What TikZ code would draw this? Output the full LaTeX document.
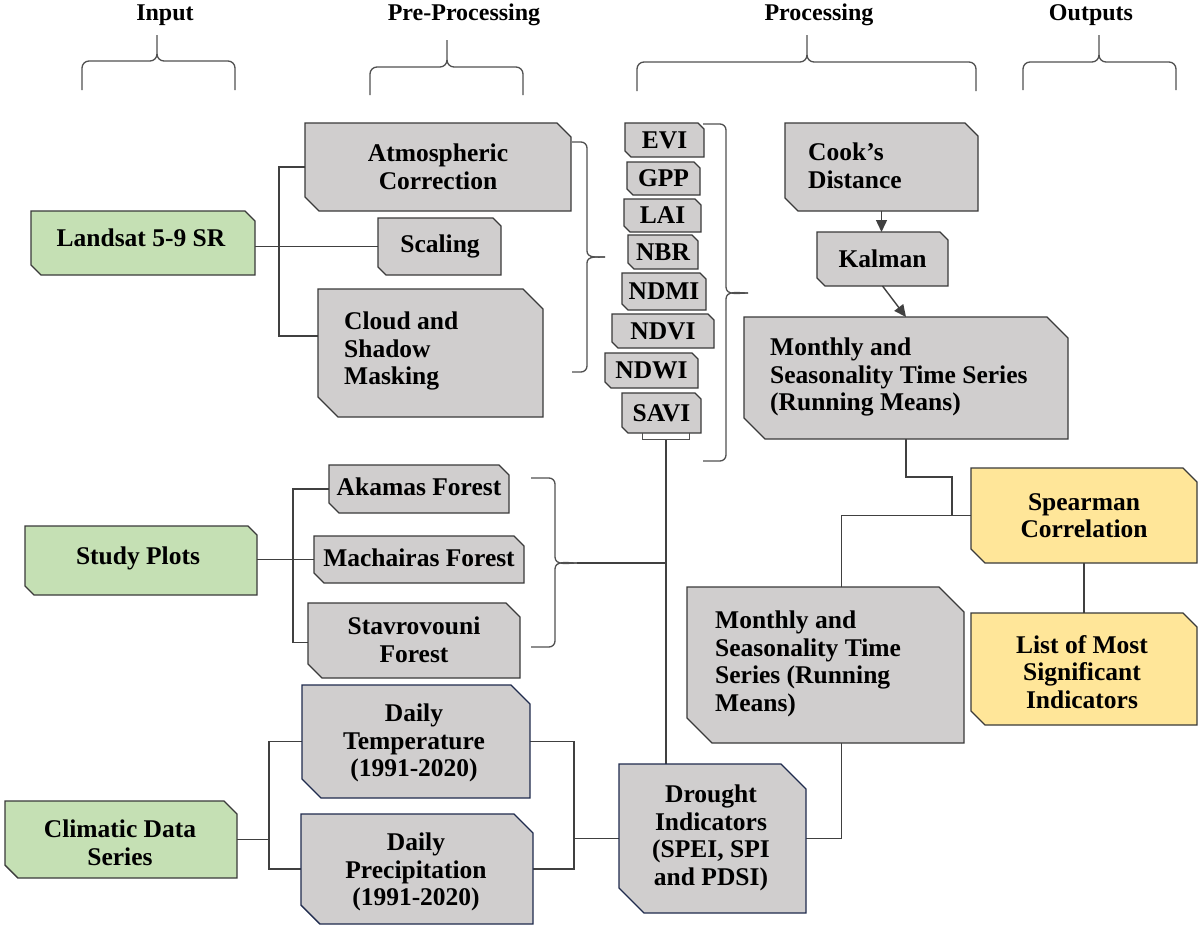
\documentclass[tikz,border=0pt]{standalone}
\usepackage{fontspec}
\setmainfont{Liberation Serif}
\usetikzlibrary{arrows.meta,fit,calc,backgrounds}
\definecolor{boxgray}{HTML}{D0CECE}
\definecolor{boxgreen}{HTML}{C5E0B4}
\definecolor{boxyellow}{HTML}{FFE699}
\definecolor{edgegray}{HTML}{3A3A3A}
\definecolor{edgenavy}{HTML}{1F2B4D}
\definecolor{linegray}{HTML}{404040}
\definecolor{bracegray}{HTML}{505050}
\newcommand\snipbox[7]{%
  \filldraw[#2] (#3,#4) -- ({#5-#7},#4) -- (#5,{#4+#7}) -- (#5,#6) -- ({#3+#7},#6) -- (#3,{#6-#7}) -- cycle;
  \node[inner sep=0pt, outer sep=0pt, fit={(#3,#4)(#5,#6)}] (#1) {};
}
\newcommand\hdrbrace[6]{%
  \draw[bracepath] (#1,#6) -- (#1,{#4+7}) to[out=90,in=180] ({#1+7},#4) -- ({#3-7},#4) to[out=0,in=270] (#3,{#4-7}) -- (#3,#5);
  \draw[bracepath] (#2,#6) -- (#2,{#4+7}) to[out=90,in=0] ({#2-7},#4) -- ({#3+7},#4) to[out=180,in=270] (#3,{#4-7});
}
\newcommand\sidebrace[6]{%
  \draw[bracepath] (#1,#3) -- ({#2-6},#3) to[out=0,in=90] (#2,{#3+6}) -- (#2,{#6-6}) to[out=270,in=180] (#5,#6);
  \draw[bracepath] (#1,#4) -- ({#2-6},#4) to[out=0,in=270] (#2,{#4-6}) -- (#2,{#6+6}) to[out=90,in=180] (#5,#6);
}
\tikzset{
  gbox/.style={fill=boxgray, draw=edgegray, line width=1.4pt},
  grbox/.style={fill=boxgreen, draw=edgegray, line width=1.4pt},
  ybox/.style={fill=boxyellow, draw=edgegray, line width=1.4pt},
  nbox/.style={fill=boxgray, draw=edgenavy, line width=1.4pt},
  conn/.style={draw=linegray, line width=1.4pt},
  arr/.style={conn, -{Triangle[length=12pt,width=11pt]}},
  bracepath/.style={draw=bracegray, line width=1.3pt},
  txt/.style={font=\fontsize{25.5}{27.5}\selectfont\bfseries, align=center, inner sep=0pt, text=black},
  hdr/.style={font=\fontsize{24}{28}\selectfont\bfseries, inner sep=0pt, anchor=base},
}
\begin{document}
\begin{tikzpicture}[x=1pt, y=-1pt]
\useasboundingbox (0,0) rectangle (1200,930);
\begin{scope}[on background layer]
\fill[white] (0,0) rectangle (1200,930);
\end{scope}
% headers
\node[hdr] (hIn) at (165,20) {Input};
\node[hdr] (hPre) at (464,20) {Pre-Processing};
\node[hdr] (hProc) at (819,20) {Processing};
\node[hdr] (hOut) at (1091,20) {Outputs};
\hdrbrace{82}{235}{157}{61}{35}{90}
\hdrbrace{370}{523}{447}{67}{40}{95}
\hdrbrace{637}{976}{807}{62}{35}{91}
\hdrbrace{1023}{1176}{1099}{62}{35}{90}
% boxes
\snipbox{land}{grbox}{31}{211}{255}{275}{10}
\snipbox{atm}{gbox}{305}{123}{571}{211}{14}
\snipbox{scal}{gbox}{378}{218}{501}{275}{8}
\snipbox{cloud}{gbox}{318}{289}{543}{417}{20}
\snipbox{evi}{gbox}{625}{123}{704}{157}{6}
\snipbox{gpp}{gbox}{627}{162}{700}{195}{6}
\snipbox{lai}{gbox}{624}{199}{701}{232}{6}
\snipbox{nbr}{gbox}{628}{235}{698}{269}{6}
\snipbox{ndmi}{gbox}{622}{273}{706}{310}{6}
\snipbox{ndvi}{gbox}{612}{314}{714}{348}{6}
\snipbox{ndwi}{gbox}{605}{353}{698}{388}{6}
\snipbox{savi}{gbox}{622}{393}{701}{433}{6}
\snipbox{cook}{gbox}{785}{123}{978}{211}{13}
\snipbox{kal}{gbox}{817}{232}{948}{286}{8}
\snipbox{mon1}{gbox}{744}{317}{1068}{439}{21}
\snipbox{spear}{ybox}{971}{468}{1197}{563}{14}
\snipbox{list}{ybox}{971}{613}{1197}{725}{14}
\snipbox{mon2}{gbox}{687}{587}{964}{743}{25}
\snipbox{study}{grbox}{25}{526}{257}{595}{9}
\snipbox{aka}{gbox}{329}{465}{509}{513}{10}
\snipbox{mach}{gbox}{314}{536}{524}{583}{10}
\snipbox{stav}{gbox}{308}{603}{520}{678}{14}
\snipbox{clim}{grbox}{5}{801}{237}{878}{13}
\snipbox{temp}{nbox}{302}{685}{530}{798}{19}
\snipbox{prec}{nbox}{301}{814}{533}{924}{19}
\snipbox{drought}{nbox}{619}{764}{806}{913}{25}
% texts
\node[txt] (tland) at (141,238) {Landsat 5-9 SR};
\node[txt] (tatm) at (atm.center) {Atmospheric\\Correction};
\node[txt] (tscal) at (440,246) {Scaling};
\node[txt, align=left, anchor=west] (tcloud) at (344,351) {Cloud and\\Shadow\\Masking};
\node[txt] (tevi) at (evi.center) {EVI};
\node[txt] (tgpp) at (gpp.center) {GPP};
\node[txt] (tlai) at (lai.center) {LAI};
\node[txt] (tnbr) at (nbr.center) {NBR};
\node[txt] (tndmi) at (ndmi.center) {NDMI};
\node[txt] (tndvi) at (ndvi.center) {NDVI};
\node[txt] (tndwi) at (ndwi.center) {NDWI};
\node[txt] (tsavi) at (savi.center) {SAVI};
\node[txt, align=left, anchor=west] (tcook) at (808,166) {Cook’s\\Distance};
\node[txt] (tkal) at (kal.center) {Kalman};
\node[txt, align=left, anchor=west] (tmon1) at (770,377) {Monthly and\\Seasonality Time Series\\(Running Means)};
\node[txt] (tspear) at (spear.center) {Spearman\\Correlation};
\node[txt] (tlist) at (1082,672) {List of Most\\Significant\\Indicators};
\node[txt, align=left, anchor=west] (tmon2) at (715,664) {Monthly and\\Seasonality Time\\Series (Running\\Means)};
\node[txt] (tstudy) at (138,558) {Study Plots};
\node[txt] (taka) at (419,487) {Akamas Forest};
\node[txt] (tmach) at (419,558) {Machairas Forest};
\node[txt] (tstav) at (414,640) {Stavrovouni\\Forest};
\node[txt] (tclim) at (120,843) {Climatic Data\\Series};
\node[txt] (ttemp) at (414,743) {Daily\\Temperature\\(1991-2020)};
\node[txt] (tprec) at (416,872) {Daily\\Precipitation\\(1991-2020)};
\node[txt] (tdr) at (711,838) {Drought\\Indicators\\(SPEI, SPI\\and PDSI)};
% braces
\sidebrace{572}{587}{142}{372}{605}{257}
\sidebrace{703}{726}{124}{461}{748}{293}
\sidebrace{531}{555}{478}{647}{577}{563}
% connectors
\begin{scope}[on background layer]
\draw[conn] (scal.west) -- (scal.west -| land.east);
\draw[conn] (atm.west) -- ++(-26,0) |- ([yshift=17]cloud.west);
\draw[conn] (mach.west) -- (mach.west -| study.east);
\draw[conn] (aka.west) -- ++(-36,0) |- ([yshift=-2]stav.west);
\draw[conn] (temp.west) -- ++(-33,0) |- (prec.west);
\coordinate (j3) at (269,839);
\draw[conn] (clim.east) -- (clim.east -| j3);
\coordinate (j2) at (574,838);
\draw[conn] (temp.east) -| (j2);
\draw[conn] (prec.east) -| (j2);
\draw[conn] (drought.west) -- (drought.west -| j2);
\coordinate (savib) at (666,439);
\draw[conn] (savib) -- (savib |- drought.north);
\coordinate (ftip) at (577,563);
\draw[conn] (ftip) -- (ftip -| savib);
\coordinate (j1) at (952,515);
\draw[conn] (mon1.south) -- ++(0,38) -| (j1);
\draw[conn] (spear.west) -| ([xshift=16]mon2.north);
\draw[conn] (spear.south) -- (list.north);
\draw[conn] (drought.east) -| ([xshift=16]mon2.south);
\end{scope}
\draw[bracepath, line width=1pt] ([xshift=-19]savi.south) -- ++(0,6) -- ++(47,0) -- ++(0,-6);
\draw[arr] (cook.south) -- (cook.south |- kal.north);
\draw[arr] (kal.south) -- (mon1.north);
\end{tikzpicture}
\end{document}
